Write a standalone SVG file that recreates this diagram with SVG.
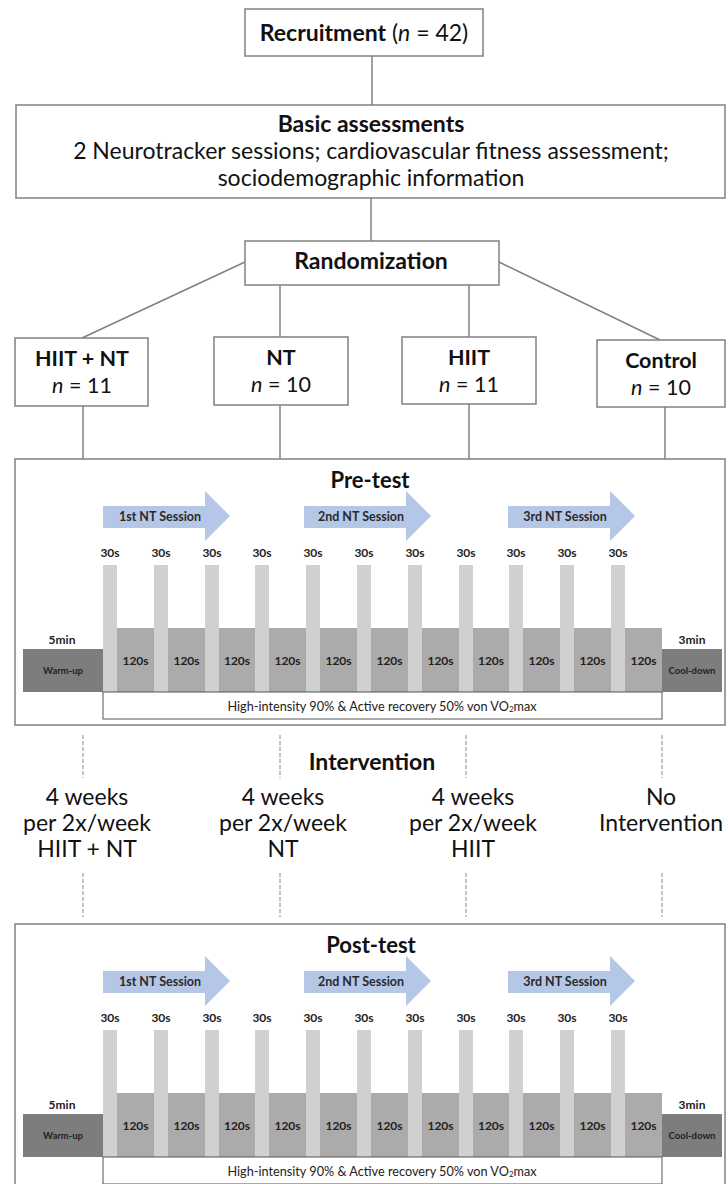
<svg xmlns="http://www.w3.org/2000/svg" width="726" height="1184" viewBox="0 0 726 1184">
<style>
text{font-family:Lato,"Liberation Sans",sans-serif;fill:#111;text-anchor:middle}
.box{fill:#fff;stroke:#808080;stroke-width:1.5}
.ln{stroke:#808080;stroke-width:1.5;fill:none}
.dash{stroke:#8a8a8a;stroke-width:1;stroke-dasharray:4 2;fill:none}
.b{font-weight:bold}
.h{font-size:23px}
.t{font-size:22px}
.g{font-size:21.5px}
.iv{font-size:23px}
.it{font-style:italic}
.s{font-size:12px;font-weight:bold;fill:#222}
.at{font-size:12.5px;font-weight:bold;fill:#2a2a2a}
.wu{font-size:9.5px;font-weight:bold;fill:#222}
.hi{font-size:12.7px;fill:#222}
.bar{fill:#d0d0d0}
.blk{fill:#acaaaa}
.dk{fill:#7d7d7d}
.arr{fill:#b4c7e7}
.wb{fill:#fff;stroke:#555;stroke-width:1}
</style>
<g id="connectors">
<line class="ln" x1="372" y1="56" x2="372" y2="105"/>
<line class="ln" x1="371" y1="198" x2="371" y2="241"/>
<line class="ln" x1="245" y1="262" x2="82" y2="338"/>
<line class="ln" x1="280" y1="285" x2="280" y2="337"/>
<line class="ln" x1="469" y1="285" x2="469" y2="337"/>
<line class="ln" x1="499" y1="262" x2="660" y2="340"/>
<line class="ln" x1="83" y1="406" x2="83" y2="459"/>
<line class="ln" x1="280" y1="405" x2="280" y2="459"/>
<line class="ln" x1="469" y1="404" x2="469" y2="459"/>
<line class="ln" x1="665" y1="407" x2="665" y2="459"/>
<line class="dash" x1="83" y1="735" x2="83" y2="778"/>
<line class="dash" x1="280" y1="735" x2="280" y2="778"/>
<line class="dash" x1="466" y1="735" x2="466" y2="778"/>
<line class="dash" x1="662" y1="735" x2="662" y2="778"/>
<line class="dash" x1="83" y1="873" x2="83" y2="917"/>
<line class="dash" x1="280" y1="873" x2="280" y2="917"/>
<line class="dash" x1="466" y1="873" x2="466" y2="917"/>
<line class="dash" x1="662" y1="873" x2="662" y2="917"/>
</g>
<g id="recruitment">
<rect class="box" x="245" y="9" width="238" height="47"/>
<text class="h" x="364" y="41"><tspan class="b">Recruitment</tspan> (<tspan class="it">n</tspan> = 42)</text>
</g>
<g id="basic">
<rect class="box" x="16" y="105" width="709" height="93"/>
<text class="h b" x="371" y="132">Basic assessments</text>
<text class="h" x="371" y="159">2 Neurotracker sessions; cardiovascular fitness assessment;</text>
<text class="h" x="371" y="186">sociodemographic information</text>
</g>
<g id="randomization">
<rect class="box" x="245" y="241" width="254" height="44"/>
<text class="h b" x="371" y="269">Randomization</text>
</g>
<g id="g-hiit-nt">
<rect class="box" x="15" y="338" width="133" height="68"/>
<text class="g b" x="82" y="366">HIIT + NT</text>
<text class="g" x="82" y="393"><tspan class="it">n</tspan> = 11</text>
</g>
<g id="g-nt">
<rect class="box" x="214" y="337" width="134" height="68"/>
<text class="g b" x="281" y="365">NT</text>
<text class="g" x="281" y="392"><tspan class="it">n</tspan> = 10</text>
</g>
<g id="g-hiit">
<rect class="box" x="402" y="337" width="134" height="67"/>
<text class="g b" x="469" y="365">HIIT</text>
<text class="g" x="469" y="392"><tspan class="it">n</tspan> = 11</text>
</g>
<g id="g-control">
<rect class="box" x="597" y="340" width="128" height="67"/>
<text class="g b" x="661" y="368">Control</text>
<text class="g" x="661" y="395"><tspan class="it">n</tspan> = 10</text>
</g>

<g id="pre-test">
<rect class="box" x="15" y="459" width="710" height="266"/>
<text class="t b" x="370" y="488">Pre-test</text>
<polygon class="arr" points="103,506 205,506 205,491 230,516 205,541 205,528 103,528"/>
<polygon class="arr" points="304,506 406,506 406,491 431,516 406,541 406,528 304,528"/>
<polygon class="arr" points="508,506 610,506 610,491 635,516 610,541 610,528 508,528"/>
<text class="at" x="160" y="521">1st NT Session</text>
<text class="at" x="361" y="521">2nd NT Session</text>
<text class="at" x="565" y="521">3rd NT Session</text>
<rect class="dk" x="23" y="649" width="80" height="43"/>
<rect class="dk" x="662" y="649" width="60" height="43"/>
<rect class="blk" x="103" y="628" width="559" height="64"/>
<rect class="bar" x="103" y="565" width="14" height="127"/>
<rect class="bar" x="154" y="565" width="14" height="127"/>
<rect class="bar" x="205" y="565" width="14" height="127"/>
<rect class="bar" x="255" y="565" width="14" height="127"/>
<rect class="bar" x="306" y="565" width="14" height="127"/>
<rect class="bar" x="357" y="565" width="14" height="127"/>
<rect class="bar" x="408" y="565" width="14" height="127"/>
<rect class="bar" x="459" y="565" width="14" height="127"/>
<rect class="bar" x="509" y="565" width="14" height="127"/>
<rect class="bar" x="560" y="565" width="14" height="127"/>
<rect class="bar" x="611" y="565" width="14" height="127"/>
<text class="s" x="110" y="557">30s</text>
<text class="s" x="161" y="557">30s</text>
<text class="s" x="212" y="557">30s</text>
<text class="s" x="262" y="557">30s</text>
<text class="s" x="313" y="557">30s</text>
<text class="s" x="364" y="557">30s</text>
<text class="s" x="415" y="557">30s</text>
<text class="s" x="466" y="557">30s</text>
<text class="s" x="516" y="557">30s</text>
<text class="s" x="567" y="557">30s</text>
<text class="s" x="618" y="557">30s</text>
<text class="s" x="135.5" y="665">120s</text>
<text class="s" x="186.5" y="665">120s</text>
<text class="s" x="237" y="665">120s</text>
<text class="s" x="287.5" y="665">120s</text>
<text class="s" x="338.5" y="665">120s</text>
<text class="s" x="389.5" y="665">120s</text>
<text class="s" x="440.5" y="665">120s</text>
<text class="s" x="491" y="665">120s</text>
<text class="s" x="541.5" y="665">120s</text>
<text class="s" x="592.5" y="665">120s</text>
<text class="s" x="643.5" y="665">120s</text>
<text class="s" x="62" y="644">5min</text>
<text class="s" x="692" y="644">3min</text>
<text class="wu" x="63" y="674">Warm-up</text>
<text class="wu" x="692" y="674">Cool-down</text>
<rect class="wb" x="103" y="692" width="559" height="27"/>
<text class="hi" x="382" y="711">High-intensity 90% &amp; Active recovery 50% von VO<tspan font-size="8px" dy="1">2</tspan><tspan dy="-1">max</tspan></text>
</g>

<g id="intervention">
<text class="h b" x="372" y="770">Intervention</text>
<text class="iv" x="87" y="805">4 weeks</text>
<text class="iv" x="87" y="831">per 2x/week</text>
<text class="iv" x="87" y="857">HIIT + NT</text>
<text class="iv" x="283" y="805">4 weeks</text>
<text class="iv" x="283" y="831">per 2x/week</text>
<text class="iv" x="283" y="857">NT</text>
<text class="iv" x="473" y="805">4 weeks</text>
<text class="iv" x="473" y="831">per 2x/week</text>
<text class="iv" x="473" y="857">HIIT</text>
<text class="iv" x="661" y="805">No</text>
<text class="iv" x="661" y="831">Intervention</text>
</g>

<g id="post-test">
<rect class="box" x="15" y="924" width="710" height="266"/>
<text class="t b" x="371" y="953">Post-test</text>
<polygon class="arr" points="103,971 205,971 205,956 230,981 205,1006 205,993 103,993"/>
<polygon class="arr" points="304,971 406,971 406,956 431,981 406,1006 406,993 304,993"/>
<polygon class="arr" points="508,971 610,971 610,956 635,981 610,1006 610,993 508,993"/>
<text class="at" x="160" y="986">1st NT Session</text>
<text class="at" x="361" y="986">2nd NT Session</text>
<text class="at" x="565" y="986">3rd NT Session</text>
<rect class="dk" x="23" y="1114" width="80" height="43"/>
<rect class="dk" x="662" y="1114" width="60" height="43"/>
<rect class="blk" x="103" y="1093" width="559" height="64"/>
<rect class="bar" x="103" y="1030" width="14" height="127"/>
<rect class="bar" x="154" y="1030" width="14" height="127"/>
<rect class="bar" x="205" y="1030" width="14" height="127"/>
<rect class="bar" x="255" y="1030" width="14" height="127"/>
<rect class="bar" x="306" y="1030" width="14" height="127"/>
<rect class="bar" x="357" y="1030" width="14" height="127"/>
<rect class="bar" x="408" y="1030" width="14" height="127"/>
<rect class="bar" x="459" y="1030" width="14" height="127"/>
<rect class="bar" x="509" y="1030" width="14" height="127"/>
<rect class="bar" x="560" y="1030" width="14" height="127"/>
<rect class="bar" x="611" y="1030" width="14" height="127"/>
<text class="s" x="110" y="1022">30s</text>
<text class="s" x="161" y="1022">30s</text>
<text class="s" x="212" y="1022">30s</text>
<text class="s" x="262" y="1022">30s</text>
<text class="s" x="313" y="1022">30s</text>
<text class="s" x="364" y="1022">30s</text>
<text class="s" x="415" y="1022">30s</text>
<text class="s" x="466" y="1022">30s</text>
<text class="s" x="516" y="1022">30s</text>
<text class="s" x="567" y="1022">30s</text>
<text class="s" x="618" y="1022">30s</text>
<text class="s" x="135.5" y="1130">120s</text>
<text class="s" x="186.5" y="1130">120s</text>
<text class="s" x="237" y="1130">120s</text>
<text class="s" x="287.5" y="1130">120s</text>
<text class="s" x="338.5" y="1130">120s</text>
<text class="s" x="389.5" y="1130">120s</text>
<text class="s" x="440.5" y="1130">120s</text>
<text class="s" x="491" y="1130">120s</text>
<text class="s" x="541.5" y="1130">120s</text>
<text class="s" x="592.5" y="1130">120s</text>
<text class="s" x="643.5" y="1130">120s</text>
<text class="s" x="62" y="1109">5min</text>
<text class="s" x="692" y="1109">3min</text>
<text class="wu" x="63" y="1139">Warm-up</text>
<text class="wu" x="692" y="1139">Cool-down</text>
<rect class="wb" x="103" y="1157" width="559" height="27"/>
<text class="hi" x="382" y="1176">High-intensity 90% &amp; Active recovery 50% von VO<tspan font-size="8px" dy="1">2</tspan><tspan dy="-1">max</tspan></text>
</g>
</svg>
